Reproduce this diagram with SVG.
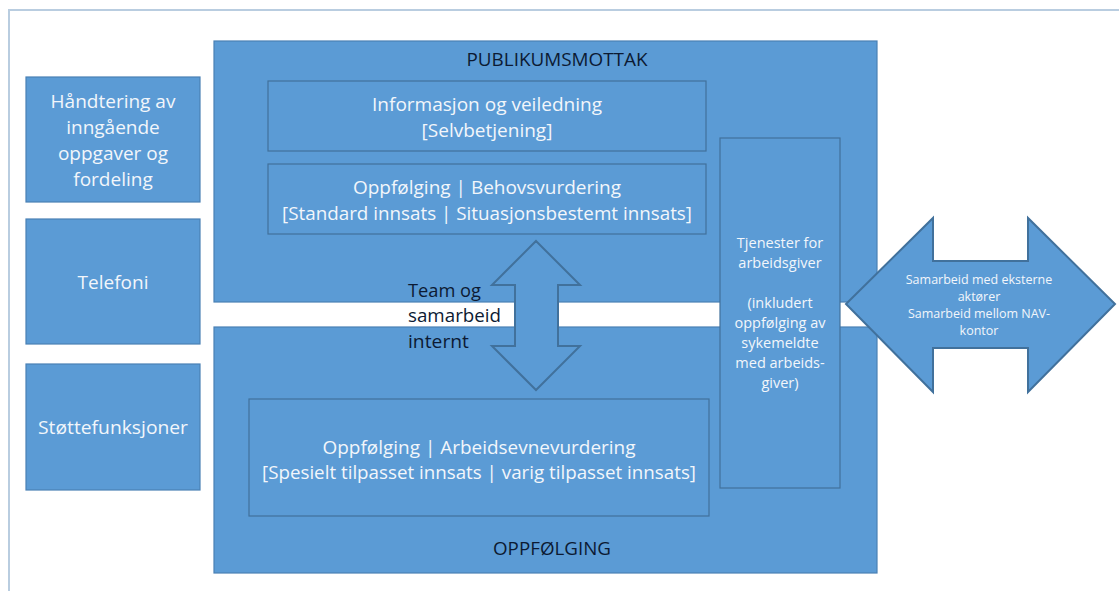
<svg xmlns="http://www.w3.org/2000/svg" width="1119" height="591" viewBox="0 0 1119 591">
  <style>
    .box { fill: #5b9bd5; stroke: #4a80b5; stroke-width: 1.2; }
    .inner { fill: #5b9bd5; stroke: #41719c; stroke-width: 1.2; }
    .arrow { fill: #5b9bd5; stroke: #41719c; stroke-width: 2; stroke-linejoin: miter; }
    .lt { font-family: "Open Sans", "Liberation Sans", sans-serif; fill: #f2f6fb; text-anchor: middle; }
    .dk { font-family: "Open Sans", "Liberation Sans", sans-serif; fill: #0c1a33; }
  </style>

  <!-- page frame -->
  <g id="frame" fill="none" stroke="#b9cde0" stroke-width="2">
    <path d="M9 591 V10 H1119"/>
  </g>

  <!-- left column -->
  <g id="handtering">
    <rect class="box" x="26" y="77" width="174" height="125"/>
    <text class="lt" font-size="19" x="113" y="108">Håndtering av</text>
    <text class="lt" font-size="19" x="113" y="134">inngående</text>
    <text class="lt" font-size="19" x="113" y="160">oppgaver og</text>
    <text class="lt" font-size="19" x="113" y="186">fordeling</text>
  </g>
  <g id="telefoni">
    <rect class="box" x="26" y="219" width="174" height="125"/>
    <text class="lt" font-size="19" x="113" y="289">Telefoni</text>
  </g>
  <g id="stottefunksjoner">
    <rect class="box" x="26" y="364" width="174" height="126"/>
    <text class="lt" font-size="19" x="113" y="434" textLength="150" lengthAdjust="spacingAndGlyphs">Støttefunksjoner</text>
  </g>

  <!-- PUBLIKUMSMOTTAK block -->
  <g id="publikumsmottak">
    <rect class="box" x="214" y="41" width="663" height="261"/>
    <text class="dk" font-size="18" x="557" y="66" text-anchor="middle" textLength="181" lengthAdjust="spacingAndGlyphs">PUBLIKUMSMOTTAK</text>
  </g>

  <!-- OPPFØLGING block -->
  <g id="oppfolging">
    <rect class="box" x="214" y="327" width="663" height="246"/>
    <text class="dk" font-size="18" x="552" y="555" text-anchor="middle" textLength="118" lengthAdjust="spacingAndGlyphs">OPPFØLGING</text>
  </g>

  <g id="informasjon">
    <rect class="inner" x="268" y="81" width="438" height="70"/>
    <text class="lt" font-size="19" x="487" y="111" textLength="230" lengthAdjust="spacingAndGlyphs">Informasjon og veiledning</text>
    <text class="lt" font-size="19" x="487" y="137">[Selvbetjening]</text>
  </g>

  <g id="behovsvurdering">
    <rect class="inner" x="268" y="164" width="438" height="70"/>
    <text class="lt" font-size="19" x="487" y="194" textLength="268" lengthAdjust="spacingAndGlyphs">Oppfølging | Behovsvurdering</text>
    <text class="lt" font-size="19" x="487" y="220" textLength="410" lengthAdjust="spacingAndGlyphs">[Standard innsats | Situasjonsbestemt innsats]</text>
  </g>

  <g id="arbeidsevnevurdering">
    <rect class="inner" x="249" y="399" width="460" height="117"/>
    <text class="lt" font-size="19" x="479" y="454" textLength="313" lengthAdjust="spacingAndGlyphs">Oppfølging | Arbeidsevnevurdering</text>
    <text class="lt" font-size="19" x="479" y="479" textLength="434" lengthAdjust="spacingAndGlyphs">[Spesielt tilpasset innsats | varig tilpasset innsats]</text>
  </g>

  <g id="tjenester">
    <rect class="inner" x="720" y="138" width="120" height="350"/>
    <text class="lt" font-size="14.5" x="780" y="248">Tjenester  for</text>
    <text class="lt" font-size="14.5" x="780" y="268">arbeidsgiver</text>
    <text class="lt" font-size="14.5" x="780" y="308">(inkludert</text>
    <text class="lt" font-size="14.5" x="780" y="328">oppfølging av</text>
    <text class="lt" font-size="14.5" x="780" y="348">sykemeldte</text>
    <text class="lt" font-size="14.5" x="780" y="368">med arbeids-</text>
    <text class="lt" font-size="14.5" x="780" y="388">giver)</text>
  </g>

  <!-- connectors -->
  <g id="connectors">
    <g id="team-arrow">
      <path class="arrow" d="M536 241 L580 285 L558 285 L558 346 L580 346 L536 390 L492 346 L515 346 L515 285 L492 285 Z"/>
      <text class="dk" font-size="19" x="408" y="297" textLength="73" lengthAdjust="spacingAndGlyphs">Team og</text>
      <text class="dk" font-size="19" x="408" y="322" textLength="93" lengthAdjust="spacingAndGlyphs">samarbeid</text>
      <text class="dk" font-size="19" x="408" y="348" textLength="61" lengthAdjust="spacingAndGlyphs">internt</text>
    </g>
    <g id="ekstern-arrow">
      <path class="arrow" d="M846 304 L933 218 L933 261 L1028 261 L1028 218 L1115 304 L1028 392 L1028 348 L933 348 L933 392 Z"/>
      <text class="lt" font-size="12.5" x="979" y="284">Samarbeid med eksterne</text>
      <text class="lt" font-size="12.5" x="979" y="301">aktører</text>
      <text class="lt" font-size="12.5" x="979" y="318">Samarbeid mellom NAV-</text>
      <text class="lt" font-size="12.5" x="979" y="335">kontor</text>
    </g>
  </g>
</svg>
